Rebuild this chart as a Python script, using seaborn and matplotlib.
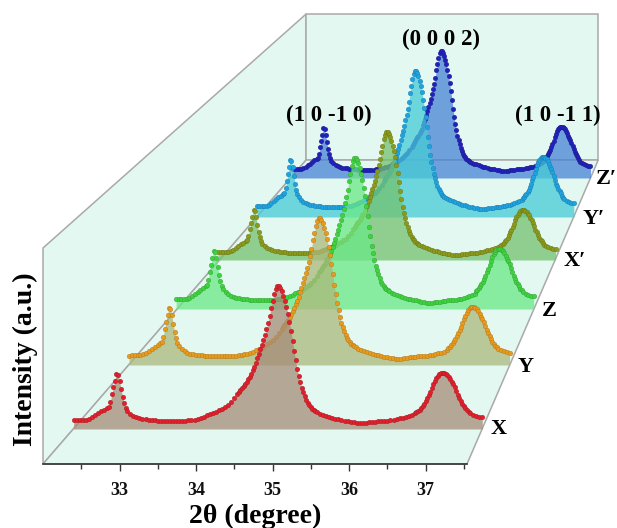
import numpy as np
import seaborn as sns
import matplotlib.pyplot as plt
from matplotlib.patches import Polygon
from matplotlib.transforms import Affine2D

sns.set_theme(style='ticks')
plt.rcParams['font.family'] = ['Liberation Serif', 'DejaVu Serif']
plt.rcParams['font.weight'] = 'bold'

# measurement grid, finer across the peaks
theta = np.round(np.r_[np.arange(32.40, 32.85, 0.04), np.arange(32.86, 33.11, 0.02),
                       np.arange(33.14, 34.55, 0.04), np.arange(34.56, 35.59, 0.02),
                       np.arange(35.62, 36.87, 0.04), np.arange(36.88, 37.59, 0.02),
                       np.arange(37.62, 37.75, 0.04)], 2)

names = ['X', 'Y', 'Z', 'X′', 'Y′', 'Z′']

int_x = [9, 9, 9, 9, 9, 10, 12, 14, 16, 18, 19, 21,
         22, 27, 35, 42, 48, 55, 54, 48, 40, 32, 26, 21, 18,
         15, 13, 12, 11, 10, 10, 9, 9, 9, 8, 8, 8, 8, 8, 8, 8, 8, 8, 8, 9, 9, 9,
         10, 11, 12, 14, 15, 16, 17, 19, 20, 22, 24, 27, 31, 35,
         37, 39, 41, 43, 45, 47, 50, 52, 55, 59, 62, 66, 71, 75, 80, 84, 89, 94, 100, 106, 113, 121, 128, 135, 140, 143,
         143, 141, 138, 133, 128, 122, 115, 107, 98, 88, 78, 69, 60, 53, 47, 41, 37, 33, 29, 26, 24, 22, 20, 19, 18, 17,
         15, 14, 13, 12, 11, 10, 10, 9, 8, 8,
         7, 7, 6, 6, 6, 6, 7, 7, 7, 8, 8, 8, 8, 9, 9, 10, 11, 11, 12, 13, 14, 16,
         17, 18, 19, 21, 23, 25, 28, 31, 34, 37, 41, 45, 48, 51, 53, 55, 56, 56, 56, 55, 54, 52, 50, 47, 45, 42, 38, 34, 31, 28, 25, 23, 21, 19, 17, 16,
         14, 13, 12, 12]
int_y = [9, 10, 10, 10, 10, 11, 12, 14, 16, 18, 20, 22,
         23, 28, 36, 43, 50, 57, 56, 50, 41, 33, 27, 22, 19,
         16, 14, 12, 11, 11, 10, 10, 10, 9, 9, 9, 9, 9, 9, 9, 9, 9, 9, 9, 9, 10, 10,
         11, 11, 12, 13, 15, 16, 17, 19, 21, 23, 25, 28, 32, 36,
         38, 40, 42, 44, 46, 48, 51, 54, 57, 61, 64, 68, 73, 77, 82, 87, 92, 97, 103, 109, 116, 125, 132, 139, 144, 147,
         147, 145, 142, 137, 132, 126, 118, 110, 101, 91, 80, 71, 62, 55, 48, 42, 38, 34, 30, 27, 25, 23, 21, 20, 19, 18,
         16, 15, 14, 13, 12, 11, 10, 10, 9, 8,
         8, 7, 7, 6, 6, 6, 7, 7, 8, 8, 8, 9, 9, 9, 9, 10, 10, 11, 12, 12, 13, 15,
         17, 18, 20, 22, 24, 26, 29, 32, 35, 38, 42, 46, 49, 52, 55, 57, 58, 58, 58, 57, 56, 54, 51, 48, 46, 43, 39, 35, 32, 29, 26, 23, 21, 19, 18, 16,
         15, 14, 13, 12]
int_z = [10, 10, 10, 10, 10, 11, 13, 15, 17, 19, 21, 23,
         24, 29, 37, 44, 51, 58, 57, 51, 42, 34, 28, 23, 20,
         17, 15, 13, 12, 11, 11, 10, 10, 10, 9, 9, 9, 9, 9, 9, 9, 9, 9, 9, 10, 10, 10,
         11, 12, 13, 14, 16, 17, 18, 20, 22, 24, 26, 29, 33, 37,
         39, 41, 43, 45, 47, 50, 53, 55, 58, 62, 66, 70, 75, 79, 84, 89, 94, 100, 106, 112, 119, 128, 135, 143, 148, 151,
         151, 149, 146, 141, 135, 129, 121, 113, 103, 93, 82, 73, 63, 56, 49, 43, 39, 35, 31, 27, 25, 23, 21, 20, 19, 18,
         16, 15, 14, 13, 12, 11, 10, 10, 9, 9,
         8, 7, 7, 6, 6, 6, 7, 7, 7, 8, 8, 9, 9, 9, 9, 10, 10, 11, 12, 13, 14, 15,
         18, 19, 21, 23, 25, 27, 30, 33, 37, 40, 44, 48, 52, 55, 57, 59, 60, 60, 60, 59, 58, 56, 53, 50, 48, 45, 41, 37, 33, 30, 27, 25, 23, 20, 19, 17,
         15, 14, 13, 13]
int_xp = [8, 8, 8, 8, 8, 9, 10, 12, 14, 16, 17, 19,
          20, 24, 31, 37, 43, 50, 49, 43, 35, 28, 23, 19, 16,
          14, 12, 11, 10, 9, 9, 8, 8, 8, 7, 7, 7, 7, 7, 7, 7, 7, 7, 7, 8, 8, 8,
          9, 10, 11, 12, 13, 14, 15, 17, 18, 20, 21, 24, 27, 31,
          33, 35, 37, 38, 40, 42, 45, 46, 49, 53, 55, 59, 63, 67, 71, 75, 79, 84, 89, 95, 101, 108, 114, 121, 125, 128,
          128, 126, 123, 119, 114, 109, 103, 95, 87, 78, 69, 61, 53, 47, 42, 37, 33, 29, 26, 23, 21, 20, 18, 17, 16, 15,
          14, 13, 12, 11, 10, 9, 9, 8, 7, 7,
          6, 6, 5, 5, 5, 5, 6, 6, 6, 7, 7, 7, 7, 8, 8, 9, 10, 10, 11, 12, 13, 14,
          15, 16, 17, 19, 20, 22, 25, 28, 30, 33, 36, 40, 43, 45, 47, 49, 50, 50, 50, 49, 48, 46, 45, 42, 40, 37, 34, 30, 28, 25, 22, 20, 19, 17, 15, 14,
          13, 12, 11, 11]
int_yp = [11, 11, 11, 11, 11, 12, 14, 16, 18, 20, 21, 23,
          24, 29, 36, 43, 50, 57, 56, 50, 41, 33, 27, 23, 20,
          17, 15, 14, 13, 12, 12, 11, 11, 11, 10, 10, 10, 10, 10, 10, 10, 10, 10, 10, 11, 11, 11,
          12, 13, 14, 15, 16, 18, 19, 21, 22, 24, 26, 29, 32, 36,
          38, 40, 42, 44, 46, 48, 51, 54, 56, 60, 64, 68, 72, 77, 82, 86, 91, 97, 102, 108, 115, 124, 131, 138, 143, 146,
          146, 144, 141, 136, 131, 125, 117, 109, 100, 90, 80, 71, 62, 55, 49, 43, 39, 35, 31, 28, 26, 24, 22, 21, 20, 19,
          18, 17, 16, 15, 14, 13, 12, 12, 11, 10,
          10, 9, 9, 8, 8, 8, 8, 9, 9, 9, 10, 10, 10, 11, 11, 12, 12, 13, 14, 15, 16, 17,
          19, 20, 22, 23, 25, 27, 30, 33, 37, 40, 44, 48, 52, 55, 57, 59, 60, 60, 60, 59, 58, 56, 53, 50, 48, 45, 41, 37, 33, 31, 28, 26, 24, 21, 19, 18,
          16, 15, 14, 14]
int_zp = [9, 9, 9, 9, 9, 10, 11, 13, 14, 16, 18, 19,
          20, 24, 31, 37, 43, 50, 49, 43, 36, 29, 24, 20, 17,
          15, 13, 12, 11, 10, 10, 10, 9, 9, 9, 9, 8, 8, 8, 8, 8, 8, 8, 8, 9, 9, 9,
          10, 11, 11, 12, 14, 15, 16, 17, 19, 21, 23, 25, 28, 31,
          33, 35, 37, 39, 41, 42, 45, 47, 49, 53, 56, 59, 63, 67, 71, 75, 79, 84, 89, 94, 100, 108, 114, 120, 125, 127,
          127, 125, 122, 118, 114, 108, 102, 95, 87, 78, 69, 61, 54, 48, 42, 38, 34, 30, 27, 24, 22, 21, 19, 18, 17, 16,
          15, 14, 14, 13, 12, 11, 11, 10, 9, 9,
          9, 8, 8, 7, 7, 7, 7, 8, 8, 8, 9, 9, 9, 9, 10, 10, 11, 11, 12, 13, 14, 15,
          16, 17, 18, 20, 22, 24, 26, 28, 31, 34, 37, 41, 44, 47, 49, 50, 51, 51, 51, 50, 49, 47, 45, 42, 40, 38, 35, 32, 29, 26, 24, 22, 20, 18, 16, 15,
          14, 13, 12, 12]
intensities = [int_x, int_y, int_z, int_xp, int_yp, int_zp]

# oblique placement of each pattern on the floor
starts = [32.40, 33.124, 33.739, 34.288, 34.797, 35.255]
widths = [1.0, 0.931, 0.875, 0.826, 0.775, 0.73]
lifts = [35, 99, 155, 204, 247, 286]
dot_colors = ['#e0202c', '#e89a1e', '#3fd23f', '#8a9a1c', '#1fa3e0', '#2222bb']
fill_colors = ['#a68c78', '#acb97a', '#6ae885', '#73c16e', '#46cbd6', '#4783d5']
name_pos = [(37.96, 35), (38.31, 97), (38.62, 153), (38.95, 203), (39.2, 245), (39.36, 285)]

fig = plt.figure(figsize=(6.17, 5.28), dpi=100)
ax = fig.add_axes([43 / 617, 64 / 528, 424 / 617, 216 / 528])
ax.patch.set_visible(False)

wall = '#e3f8f1'
edge = '#a9a9a9'
walls = [
    [(32, 0), (32, 216), (35.438, 450), (35.438, 304)],
    [(35.438, 304), (35.438, 450), (39.255, 450), (39.255, 304)],
    [(32, 0), (37.54, 0), (39.255, 304), (35.438, 304)],
]
for corners in walls:
    ax.add_patch(Polygon(corners, closed=True, facecolor=wall, edgecolor=edge, lw=1.1, clip_on=False, zorder=1))

# back to front so the nearer patterns sit on top
for i in range(5, -1, -1):
    tr = Affine2D().translate(-32.4, 0).scale(widths[i], 1).translate(starts[i], lifts[i]) + ax.transData
    ax.fill_between(theta, 0, intensities[i], color=fill_colors[i], alpha=0.75, lw=0, transform=tr,
                    clip_on=False, zorder=2 + (5 - i) * 2)
    sns.scatterplot(x=theta, y=intensities[i], color=dot_colors[i], s=12, edgecolor='#00000055', linewidth=0.2,
                    transform=tr, clip_on=False, zorder=3 + (5 - i) * 2, ax=ax)
    ax.text(name_pos[i][0], name_pos[i][1], names[i], fontsize=16, fontweight='bold', ha='center', va='center',
            color='black', clip_on=False, zorder=20)

ax.set_xlim(32, 37.54)
ax.set_ylim(0, 216)
for side in ['top', 'left', 'right']:
    ax.spines[side].set_visible(False)
ax.spines['bottom'].set_color('#333333')
ax.spines['bottom'].set_linewidth(1.2)
ax.spines['bottom'].set_zorder(19)
ax.set_yticks([])
ax.set_xticks([33, 34, 35, 36, 37])
ax.set_xticks([32.5, 33.5, 34.5, 35.5, 36.5, 37.5], minor=True)
ax.tick_params(axis='x', which='major', length=5, width=1, labelsize=13, pad=8, color='#333333', labelcolor='#111111')
ax.tick_params(axis='x', which='minor', length=3.5, width=1, color='#333333')
ax.set_xlabel('2θ (degree)', fontsize=20, fontweight='bold', color='black')
ax.xaxis.set_label_coords(0.5, -0.185)
ax.set_ylabel('Intensity (a.u.)', fontsize=20, fontweight='bold', color='black')
ax.yaxis.set_label_coords(-0.012, 0.486)

peak_labels = ['(1 0 -1 0)', '(0 0 0 2)', '(1 0 -1 1)']
peak_pos = [(35.74, 349), (37.2, 425), (38.73, 349)]
for lab, pos in zip(peak_labels, peak_pos):
    ax.text(pos[0], pos[1], lab, fontsize=16.5, fontweight='bold', ha='center', va='center', color='black',
            clip_on=False, zorder=20)

fig.savefig('out.png', dpi=100)
